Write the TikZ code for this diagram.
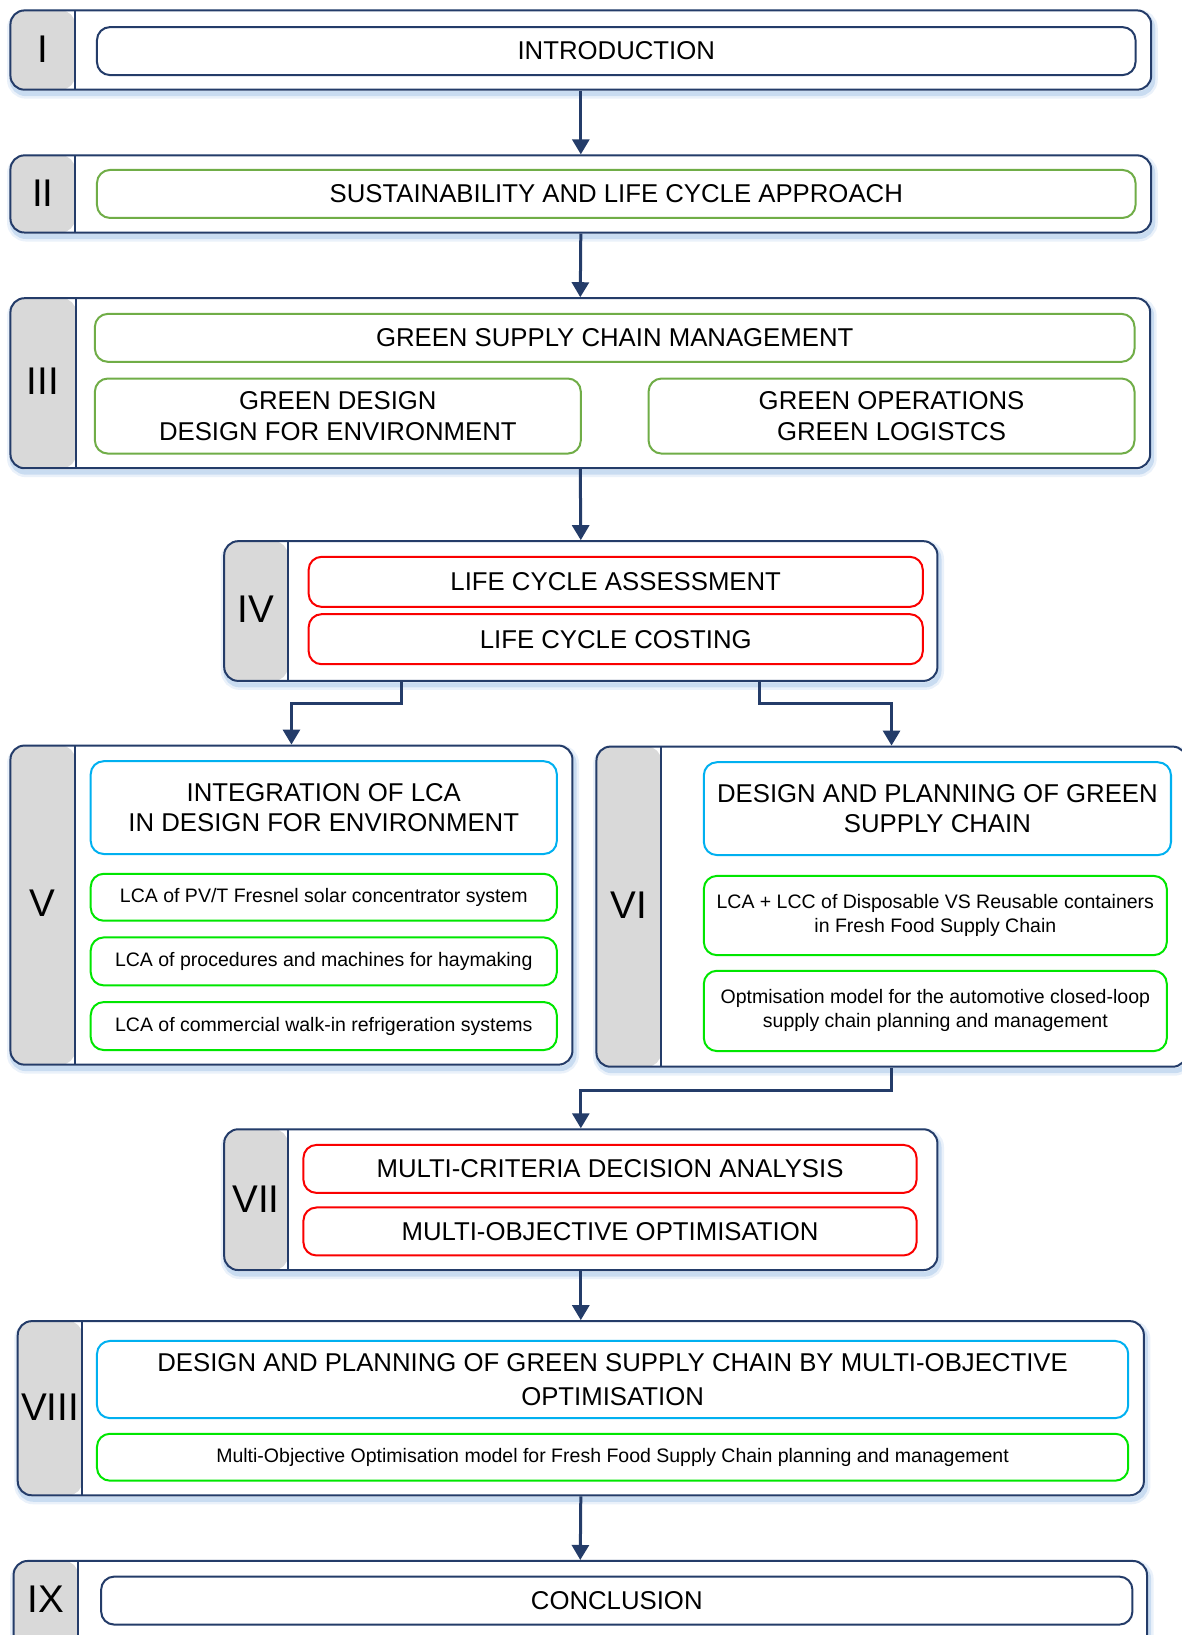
\documentclass[tikz,border=0pt]{standalone}
\usepackage{fontspec}
\setmainfont{Liberation Sans}
\usetikzlibrary{arrows.meta}
\definecolor{navy}{RGB}{36,60,105}
\definecolor{stripgray}{RGB}{217,217,217}
\definecolor{secolive}{RGB}{112,173,71}
\definecolor{secred}{RGB}{250,0,0}
\definecolor{secsky}{RGB}{0,176,240}
\definecolor{seclime}{RGB}{0,230,0}
\definecolor{haze}{RGB}{140,180,225}
\newcommand\bigtext{\fontsize{12.87}{15.4}\selectfont}
\newcommand\smalltext{\fontsize{9.75}{12}\selectfont}
\newcommand\numtext{\fontsize{19.3}{22}\selectfont}
\begin{document}
\begin{tikzpicture}[x=0.52119pt, y=-0.52119pt,
  % span={left}{top}{right}{bottom}: places and sizes a node between two corners
  span/.style n args={4}{at={({(#1+#3)/2},{(#2+#4)/2})}, anchor=center,
    minimum width={(#3-#1)*0.52119pt}, minimum height={(#4-#2)*0.52119pt}},
  frame/.style={draw=navy, line width=1pt, rounded corners=7pt, fill=white, inner sep=0pt,
    preaction={draw=haze, line width=5pt, opacity=0.18, transform canvas={xshift=0.8pt, yshift=-2pt}},
    preaction={draw=haze, line width=2.5pt, opacity=0.35, transform canvas={xshift=0.8pt, yshift=-2pt}}},
  strip/.style={path picture={
    \fill[stripgray] (path picture bounding box.north west) rectangle ([xshift=#1]path picture bounding box.south west);
    \draw[navy, line width=1pt] ([xshift=#1]path picture bounding box.north west) -- ([xshift=#1]path picture bounding box.south west);}},
  cell/.style={draw=#1, line width=1pt, rounded corners=6.5pt, fill=white, inner sep=0pt, align=center, font=\bigtext},
  note/.style={cell=#1, font=\smalltext},
  numeral/.style={font=\numtext, inner sep=0pt},
  flow/.style={draw=navy, line width=1.5pt, -{Triangle[length=7.5pt, width=8.5pt]}}
]
\useasboundingbox (0,0) rectangle (1133,1568);

% I
\node[frame, strip=32.3pt, span={10}{10}{1104}{86}] (sI) {};
\node[numeral] (nI) at (41,47) {I};
\node[cell=navy, span={93}{26}{1089}{72}] (cI) {INTRODUCTION};

% II
\node[frame, strip=32.3pt, span={10}{149}{1104}{223}] (sII) {};
\node[numeral] (nII) at (41,185) {II};
\node[cell=secolive, span={93}{163}{1089}{209}] (cII) {SUSTAINABILITY AND LIFE CYCLE APPROACH};

% III
\node[frame, strip=32.8pt, span={10}{286}{1103}{449}] (sIII) {};
\node[numeral] (nIII) at (41,366) {III};
\node[cell=secolive, span={91}{301}{1088}{347}] (cIIIa) {GREEN SUPPLY CHAIN MANAGEMENT};
\node[cell=secolive, span={91}{363}{557}{435}] (cIIIb) {GREEN DESIGN\\DESIGN FOR ENVIRONMENT};
\node[cell=secolive, span={622}{363}{1088}{435}] (cIIIc) {GREEN OPERATIONS\\GREEN LOGISTCS};

% IV
\node[frame, strip=31.8pt, span={215}{519}{899}{653}] (sIV) {};
\node[numeral] (nIV) at (245.5,584) {IV};
\node[cell=secred, span={296}{534}{885}{582}] (cIVa) {LIFE CYCLE ASSESSMENT};
\node[cell=secred, span={296}{589}{885}{637}] (cIVb) {LIFE CYCLE COSTING};

% V
\node[frame, strip=32.3pt, span={10}{715}{549}{1021}] (sV) {};
\node[numeral] (nV) at (41,866) {V};
\node[cell=secsky, span={87}{730}{534}{819}] (cVa) {INTEGRATION OF LCA\\IN DESIGN FOR ENVIRONMENT};
\node[note=seclime, span={87}{838}{534}{883}] (cVb) {LCA of PV/T Fresnel solar concentrator system};
\node[note=seclime, span={87}{899}{534}{945}] (cVc) {LCA of procedures and machines for haymaking};
\node[note=seclime, span={87}{961}{534}{1007}] (cVd) {LCA of commercial walk-in refrigeration systems};

% VI
\node[frame, strip=32.3pt, span={572}{716}{1138}{1023}] (sVI) {};
\node[numeral] (nVI) at (603,868) {VI};
\node[cell=secsky, span={675}{731}{1123}{820}] (cVIa) {DESIGN AND PLANNING OF GREEN\\SUPPLY CHAIN};
\node[note=seclime, span={675}{840}{1119}{916}] (cVIb) {LCA + LCC of Disposable VS Reusable containers\\in Fresh Food Supply Chain};
\node[note=seclime, span={675}{931}{1119}{1008}] (cVIc) {Optmisation model for the automotive closed-loop\\supply chain planning and management};

% VII
\node[frame, strip=31.8pt, span={215}{1083}{899}{1218}] (sVII) {};
\node[numeral] (nVII) at (245.5,1150) {VII};
\node[cell=secred, span={291}{1098}{879}{1144}] (cVIIa) {MULTI-CRITERIA DECISION ANALYSIS};
\node[cell=secred, span={291}{1158}{879}{1204}] (cVIIb) {MULTI-OBJECTIVE OPTIMISATION};

% VIII
\node[frame, strip=32.3pt, span={17}{1267}{1097}{1434}] (sVIII) {};
\node[numeral] (nVIII) at (48,1350) {VIII};
\node[cell=secsky, span={93}{1286}{1082}{1360}, font=\fontsize{12.87}{16.6}\selectfont] (cVIIIa) {DESIGN AND PLANNING OF GREEN SUPPLY CHAIN BY MULTI-OBJECTIVE\\OPTIMISATION};
\node[note=seclime, span={93}{1375}{1082}{1420}] (cVIIIb) {Multi-Objective Optimisation model for Fresh Food Supply Chain planning and management};

% IX
\node[frame, strip=32.3pt, span={13}{1497}{1100}{1595}] (sIX) {};
\node[numeral] (nIX) at (44,1534) {IX};
\node[cell=navy, span={97}{1512}{1086}{1558}] (cIX) {CONCLUSION};

% connectors
\draw[flow] (sI.south) -- (sII.north);
\draw[flow] (sII.south) -- (sIII.north);
\draw[flow] (sIII.south) -- (sIV.north);
\draw[flow] ([xshift=-89.6pt]sIV.south) -- ++(0,21) -| (sV.north);
\draw[flow] ([xshift=89.2pt]sIV.south) -- ++(0,21) -| (sVI.north);
\draw[flow] (sVI.south) -- ++(0,22) -| (sVII.north);
\draw[flow] (sVII.south) -- (sVIII.north);
\draw[flow] (sVIII.south) -- (sIX.north);
\end{tikzpicture}
\end{document}
